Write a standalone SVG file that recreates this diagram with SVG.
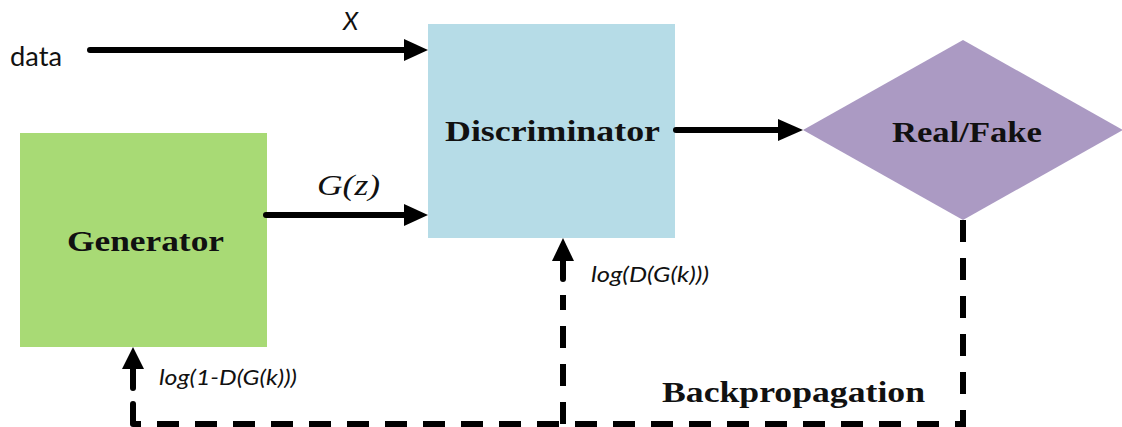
<svg xmlns="http://www.w3.org/2000/svg" width="1122" height="427" viewBox="0 0 1122 427">
  <style>
    .serif { font-family: "Liberation Serif", "DejaVu Serif", serif; }
    .sans { font-family: "Lato", "Open Sans", "Liberation Sans", sans-serif; }
    .label { font-weight: bold; font-size: 30px; fill: #111; }
    .flow { stroke: #000; stroke-width: 6; fill: none; stroke-linecap: round; }
    .back { stroke: #000; stroke-width: 6; fill: none; stroke-dasharray: 22 16; }
    .head { fill: #000; }
  </style>
  <rect width="1122" height="427" fill="#fff"/>

  <g id="generator">
    <rect x="20" y="133" width="247" height="214" fill="#a8da75"/>
    <text class="serif label" x="67" y="251" font-size="31" textLength="157" lengthAdjust="spacingAndGlyphs">Generator</text>
  </g>

  <g id="discriminator">
    <rect x="428" y="24" width="247" height="214" fill="#b6dce7"/>
    <text class="serif label" x="445" y="141" textLength="215" lengthAdjust="spacingAndGlyphs">Discriminator</text>
  </g>

  <g id="real-fake">
    <polygon points="803,130 963,40 1123,130 963,220" fill="#ab9ac3"/>
    <text class="serif label" x="892" y="142" textLength="150" lengthAdjust="spacingAndGlyphs">Real/Fake</text>
  </g>

  <g id="connectors">
    <!-- forward flow -->
    <line class="flow" x1="90" y1="50" x2="408" y2="50"/>
    <polygon class="head" points="404,39 428,50 404,61"/>
    <line class="flow" x1="266" y1="215" x2="408" y2="215"/>
    <polygon class="head" points="404,204 428,215 404,226"/>
    <line class="flow" x1="676" y1="130" x2="782" y2="130"/>
    <polygon class="head" points="778,119 803,130 778,141"/>

    <!-- backpropagation loop -->
    <path class="back" d="M963,220 V424 H133"/>
    <line class="flow" x1="133" y1="424" x2="133" y2="404" stroke-linecap="butt"/>
    <line class="flow" x1="133" y1="388" x2="133" y2="364" stroke-linecap="butt"/>
    <polygon class="head" points="122,369 133,347 144,369"/>
    <path class="back" d="M563,424 V295" stroke-dasharray="0 3 22 16 22 16 22 16 22 16"/>
    <line class="flow" x1="563" y1="279" x2="563" y2="256" stroke-linecap="butt"/>
    <polygon class="head" points="552,261 563,238 574,261"/>
  </g>

  <g id="labels">
    <text class="sans" x="10" y="66" font-size="26" textLength="52" lengthAdjust="spacingAndGlyphs" fill="#111">data</text>
    <text class="sans" x="343" y="30" font-size="25" font-style="italic" fill="#111">X</text>
    <text class="serif" x="317" y="195" font-size="29" font-style="italic" textLength="63" lengthAdjust="spacingAndGlyphs" fill="#111">G(z)</text>
    <text class="sans" x="591" y="282" font-size="22" font-style="italic" textLength="118" lengthAdjust="spacingAndGlyphs" fill="#111">log(D(G(k)))</text>
    <text class="sans" x="159" y="385" font-size="22" font-style="italic" textLength="138" lengthAdjust="spacingAndGlyphs" fill="#111">log(1-D(G(k)))</text>
    <text class="serif label" x="662" y="402" font-size="29" textLength="263" lengthAdjust="spacingAndGlyphs">Backpropagation</text>
  </g>
</svg>
